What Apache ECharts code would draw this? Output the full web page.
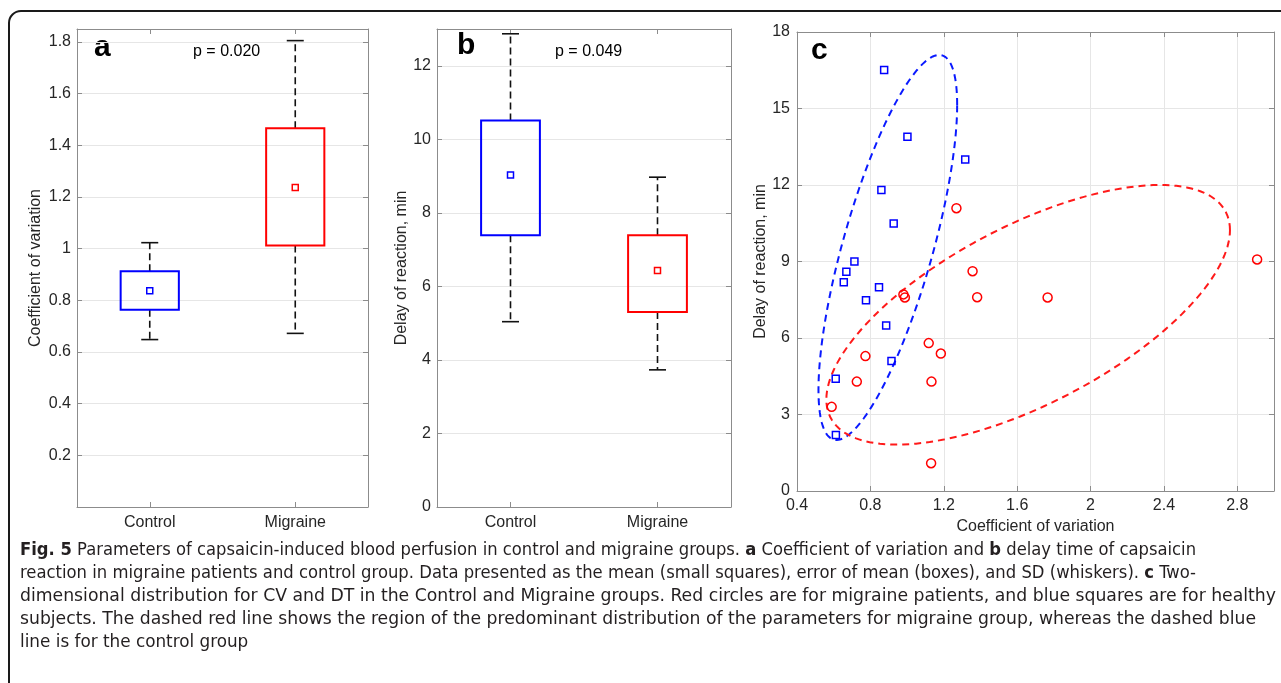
<!DOCTYPE html>
<html>
<head>
<meta charset="utf-8">
<title>Fig. 5</title>
<script src="https://cdn.jsdelivr.net/npm/echarts@6/dist/echarts.min.js"></script>
<style>
  html, body { margin: 0; padding: 0; background: #fff; overflow: hidden; }
  #frame {
    position: absolute; left: 8px; top: 10px; width: 1400px; height: 800px;
    border: 2px solid #1a1a1a; border-radius: 13px; box-sizing: border-box;
  }
  #chart { position: absolute; left: 0; top: 0; width: 1281px; height: 540px; }
  #caption {
    position: absolute; left: 20px; top: 537px; color: #231f20;
    font-family: "Liberation Sans Narrow", "DejaVu Sans Condensed", "Noto Sans", sans-serif;
    font-stretch: condensed; font-size: 18px; line-height: 23px; white-space: nowrap;
  }
  #caption .ln { display: block; width: max-content; transform-origin: 0 50%; }
  #caption b { font-weight: bold; }
</style>
</head>
<body>
<div id="frame"></div>
<div id="chart"></div>
<div id="caption">
  <div class="ln"><b>Fig. 5</b> Parameters of capsaicin-induced blood perfusion in control and migraine groups. <b>a</b> Coefficient of variation and <b>b</b> delay time of capsaicin</div>
  <div class="ln">reaction in migraine patients and control group. Data presented as the mean (small squares), error of mean (boxes), and SD (whiskers). <b>c</b> Two-</div>
  <div class="ln">dimensional distribution for CV and DT in the Control and Migraine groups. Red circles are for migraine patients, and blue squares are for healthy</div>
  <div class="ln">subjects. The dashed red line shows the region of the predominant distribution of the parameters for migraine group, whereas the dashed blue</div>
  <div class="ln">line is for the control group</div>
</div>
<script>
// 数据: 两组
const groups = ['Control', 'Migraine'];
// a: 变异系数 (均值, 标准误范围, SD 须)
const cvMean = [0.837, 1.237];
const cvBoxLow = [0.763, 1.012];
const cvBoxHigh = [0.912, 1.466];
const cvSdLow = [0.648, 0.672];
const cvSdHigh = [1.023, 1.805];
// b: 反应延迟, min
const dtMean = [9.03, 6.43];
const dtBoxLow = [7.39, 5.30];
const dtBoxHigh = [10.51, 7.39];
const dtSdLow = [5.04, 3.73];
const dtSdHigh = [12.87, 8.97];
// c: 散点
const controlCV = [0.875, 1.002, 1.317, 0.86, 0.927, 0.713, 0.669, 0.655, 0.847, 0.776, 0.886, 0.915, 0.611, 0.612];
const controlDT = [16.51, 13.89, 13.0, 11.8, 10.49, 9.0, 8.6, 8.19, 7.99, 7.48, 6.49, 5.1, 4.4, 2.2];
const migraineCV = [1.269, 1.357, 0.98, 0.988, 1.382, 1.118, 1.184, 0.773, 0.726, 1.133, 0.589, 1.131, 1.766, 2.908];
const migraineDT = [11.09, 8.62, 7.71, 7.59, 7.6, 5.8, 5.39, 5.29, 4.29, 4.29, 3.3, 1.09, 7.59, 9.08];
// 椭圆: 中心x, 中心y, 半宽, 半高, 倾斜(cos)
const ellipseControl = [0.895, 9.55, 0.378, 7.55, 0.74];
const ellipseMigraine = [1.66, 6.91, 1.10, 5.09, 0.652];

const groupColors = ['#0000ff', '#ff0000'];
const FONT = '"Liberation Sans", Arial, sans-serif';
const TXT = '#262626';
const AXC = '#8c8c8c';

const chart = echarts.init(document.getElementById('chart'));

// 组合箱体数据
const boxData = (mean, lo, hi, sl, sh) => groups.map((g, i) => [i, mean[i], lo[i], hi[i], sl[i], sh[i]]);

const renderBox = (params, api) => {
  const i = api.value(0);
  const mid = api.coord([i, api.value(1)]);
  const lo = api.coord([i, api.value(2)]);
  const hi = api.coord([i, api.value(3)]);
  const sl = api.coord([i, api.value(4)]);
  const sh = api.coord([i, api.value(5)]);
  const w = api.size([1, 0])[0] * 0.4;
  const x = mid[0];
  const c = groupColors[i];
  const dash = { stroke: '#111', lineWidth: 1.6, lineDash: [7, 4] };
  const solid = { stroke: '#111', lineWidth: 1.6 };
  return {
    type: 'group',
    children: [
      { type: 'line', shape: { x1: x, y1: hi[1], x2: x, y2: sh[1] }, style: dash },
      { type: 'line', shape: { x1: x, y1: lo[1], x2: x, y2: sl[1] }, style: dash },
      { type: 'line', shape: { x1: x - 8.5, y1: sh[1], x2: x + 8.5, y2: sh[1] }, style: solid },
      { type: 'line', shape: { x1: x - 8.5, y1: sl[1], x2: x + 8.5, y2: sl[1] }, style: solid },
      { type: 'rect', shape: { x: x - w / 2, y: hi[1], width: w, height: lo[1] - hi[1] },
        style: { fill: 'none', stroke: c, lineWidth: 2 } },
      { type: 'rect', shape: { x: x - 3, y: mid[1] - 3, width: 6, height: 6 },
        style: { fill: 'none', stroke: c, lineWidth: 1.5 } },
    ],
  };
};

const ellipseRenderer = (color) => (params, api) => {
  const cx = api.value(0), cy = api.value(1), a = api.value(2), b = api.value(3);
  const d = Math.acos(api.value(4));
  const pts = [];
  for (let s = 0; s <= 160; s++) {
    const t = (s / 160) * Math.PI * 2;
    pts.push(api.coord([cx + a * Math.cos(t), cy + b * Math.cos(t - d)]));
  }
  return {
    type: 'polyline',
    shape: { points: pts },
    style: { fill: 'none', stroke: color, lineWidth: 2, lineDash: [7, 5] },
  };
};

// 轴的公共样式
const tickIn = { show: true, inside: true, length: 5, lineStyle: { color: AXC } };
const lineAx = { show: true, onZero: false, lineStyle: { color: AXC, width: 1 } };
const gridLine = { show: true, lineStyle: { color: '#e6e6e6', width: 1 } };
const lbl = (margin, extra) => Object.assign({ fontSize: 16, color: TXT, fontFamily: FONT, margin }, extra || {});

const catAxis = (gi, pos) => ({
  type: 'category', gridIndex: gi, position: pos, data: groups, boundaryGap: true,
  axisLine: lineAx, axisTick: Object.assign({ alignWithLabel: true }, tickIn),
  axisLabel: pos === 'bottom' ? lbl(8) : { show: false },
  splitLine: { show: false },
});

const valAxis = (gi, pos, min, max, interval, opts) => Object.assign({
  type: 'value', gridIndex: gi, position: pos, min, max, interval,
  axisLine: lineAx, axisTick: tickIn,
  splitLine: pos === 'left' || pos === 'bottom' ? gridLine : { show: false },
  axisLabel: { show: false },
}, opts || {});

const nameStyle = { fontSize: 16, color: TXT, fontFamily: FONT };

const option = {
  animation: false,
  grid: [
    { left: 77, top: 29, width: 291, height: 478, show: false },
    { left: 437, top: 29, width: 294, height: 478, show: false },
    { left: 797, top: 32, width: 477, height: 459, show: false },
  ],
  xAxis: [
    catAxis(0, 'bottom'),
    catAxis(0, 'top'),
    catAxis(1, 'bottom'),
    catAxis(1, 'top'),
    valAxis(2, 'bottom', 0.4, 3.0, 0.4, {
      axisLabel: lbl(7, { showMaxLabel: false }),
      name: 'Coefficient of variation', nameLocation: 'middle', nameGap: 26, nameTextStyle: nameStyle,
    }),
    valAxis(2, 'top', 0.4, 3.0, 0.4),
  ],
  yAxis: [
    valAxis(0, 'left', 0, 1.85, 0.2, {
      axisLabel: lbl(6, { formatter: (v) => (v === 0 || v > 1.81 ? '' : String(+v.toFixed(1))) }),
      name: 'Coefficient of variation', nameLocation: 'middle', nameGap: 33, nameTextStyle: nameStyle,
    }),
    valAxis(0, 'right', 0, 1.85, 0.2),
    valAxis(1, 'left', 0, 13, 2, {
      axisLabel: lbl(6, { showMaxLabel: false }),
      name: 'Delay of reaction, min', nameLocation: 'middle', nameGap: 27, nameTextStyle: nameStyle,
    }),
    valAxis(1, 'right', 0, 13, 2),
    valAxis(2, 'left', 0, 18, 3, {
      axisLabel: lbl(7),
      name: 'Delay of reaction, min', nameLocation: 'middle', nameGap: 24, nameTextStyle: nameStyle,
    }),
    valAxis(2, 'right', 0, 18, 3),
  ],
  graphic: [
    { type: 'text', left: 94, top: 33, style: { text: 'a', font: 'bold 30px ' + FONT, fill: '#000' } },
    { type: 'text', left: 193, top: 44, style: { text: 'p = 0.020', font: '16px ' + FONT, fill: '#000' } },
    { type: 'text', left: 457, top: 31, style: { text: 'b', font: 'bold 30px ' + FONT, fill: '#000' } },
    { type: 'text', left: 555, top: 44, style: { text: 'p = 0.049', font: '16px ' + FONT, fill: '#000' } },
    { type: 'text', left: 811, top: 36, style: { text: 'c', font: 'bold 30px ' + FONT, fill: '#000' } },
  ],
  series: [
    {
      type: 'custom', xAxisIndex: 0, yAxisIndex: 0,
      data: boxData(cvMean, cvBoxLow, cvBoxHigh, cvSdLow, cvSdHigh),
      renderItem: renderBox, clip: false,
    },
    {
      type: 'custom', xAxisIndex: 2, yAxisIndex: 2,
      data: boxData(dtMean, dtBoxLow, dtBoxHigh, dtSdLow, dtSdHigh),
      renderItem: renderBox, clip: false,
    },
    {
      type: 'scatter', xAxisIndex: 4, yAxisIndex: 4,
      data: controlCV.map((v, i) => [v, controlDT[i]]),
      symbol: 'rect', symbolSize: 7,
      itemStyle: { color: 'rgba(0,0,0,0)', borderColor: '#0000ff', borderWidth: 1.5, opacity: 1 },
    },
    {
      type: 'scatter', xAxisIndex: 4, yAxisIndex: 4,
      data: migraineCV.map((v, i) => [v, migraineDT[i]]),
      symbol: 'circle', symbolSize: 9,
      itemStyle: { color: 'rgba(0,0,0,0)', borderColor: '#ff0000', borderWidth: 1.5, opacity: 1 },
    },
    {
      type: 'custom', xAxisIndex: 4, yAxisIndex: 4,
      data: [ellipseControl], renderItem: ellipseRenderer('#0a1aff'), clip: false,
    },
    {
      type: 'custom', xAxisIndex: 4, yAxisIndex: 4,
      data: [ellipseMigraine], renderItem: ellipseRenderer('#ff1a1a'), clip: false,
    },
  ],
};
chart.setOption(option);

// 说明文字: 前四行按原图宽度横向压缩, 末行用平均比例
const lineWidths = [1176, 1176, 1256, 1236];
const lines = document.querySelectorAll('#caption .ln');
let sum = 0;
lineWidths.forEach((tw, i) => {
  const s = tw / lines[i].getBoundingClientRect().width;
  sum += s;
  lines[i].style.transform = 'scaleX(' + s.toFixed(4) + ')';
});
lines[4].style.transform = 'scaleX(' + (sum / lineWidths.length).toFixed(4) + ')';
</script>
</body>
</html>
